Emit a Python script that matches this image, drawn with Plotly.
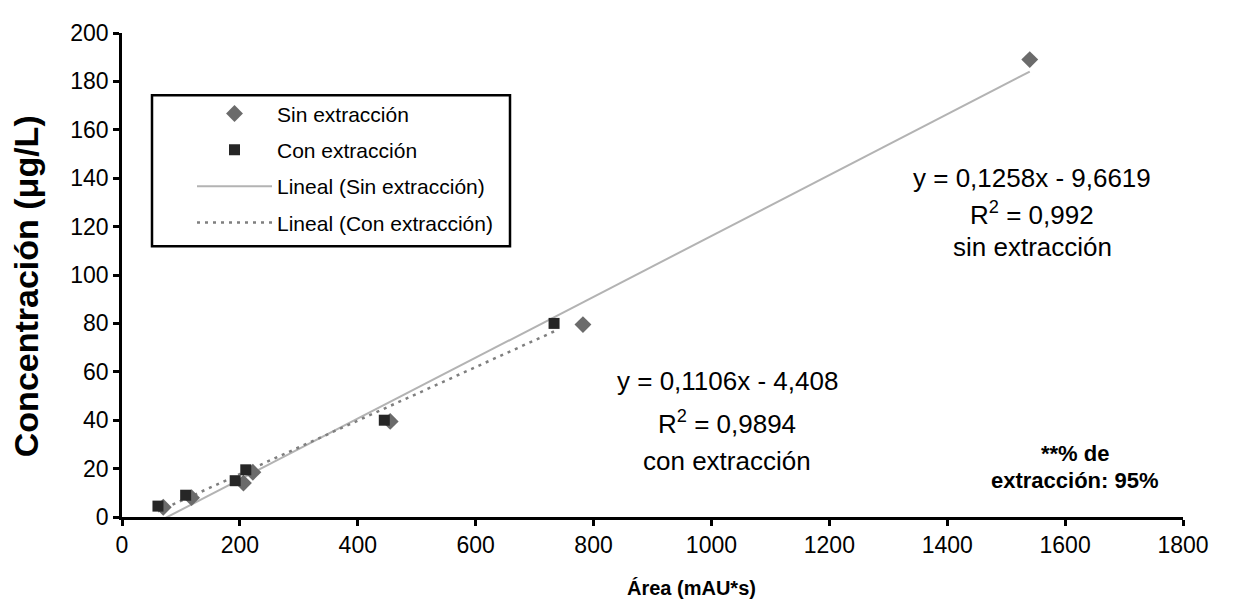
import plotly.graph_objects as go

# ---- data ----
sin_x = [70, 118, 206, 222, 455, 782, 1540]
sin_y = [4.0, 8.0, 14.0, 18.5, 39.5, 79.5, 189.0]
con_x = [61, 108, 192, 210, 445, 733]
con_y = [4.5, 9.0, 15.0, 19.5, 40.0, 80.0]

# trendline coefficients (as printed on the chart)
sin_slope, sin_icpt = 0.1258, -9.6619
con_slope, con_icpt = 0.1106, -4.408

x_ticks = [0, 200, 400, 600, 800, 1000, 1200, 1400, 1600, 1800]
y_ticks = [0, 20, 40, 60, 80, 100, 120, 140, 160, 180, 200]

FONT = "Liberation Sans, Arial, sans-serif"

# layout geometry (pixels)
W, H = 1245, 602
L, R, T, B = 114, 70, 12, 93
PW, PH = W - L - R, H - T - B


def px(xp):
    return (xp - L) / PW


def py(yp):
    return (H - B - yp) / PH


sin_line_x = [min(sin_x), max(sin_x)]
sin_line_y = [sin_slope * v + sin_icpt for v in sin_line_x]
con_line_x = [min(con_x), max(con_x)]
con_line_y = [con_slope * v + con_icpt for v in con_line_x]

fig = go.Figure()
fig.add_trace(go.Scatter(x=sin_line_x, y=sin_line_y, mode="lines",
                         line=dict(color="#b3b3b3", width=2),
                         name="Lineal (Sin extracción)", legendrank=3, legendgroup="c"))
fig.add_trace(go.Scatter(x=con_line_x, y=con_line_y, mode="lines",
                         line=dict(color="#7f7f7f", width=2.5, dash="3px,5px"),
                         name="Lineal (Con extracción)", legendrank=4, legendgroup="d"))
fig.add_trace(go.Scatter(x=sin_x, y=sin_y, mode="markers",
                         marker=dict(symbol="diamond", size=13, color="#6b6b6b"),
                         name="Sin extracción", legendrank=1, legendgroup="a"))
fig.add_trace(go.Scatter(x=con_x, y=con_y, mode="markers",
                         marker=dict(symbol="square", size=11, color="#262626"),
                         name="Con extracción", legendrank=2, legendgroup="b"))

ann = []


def txt(x, y, t, size=26, bold=False):
    ann.append(dict(x=x, y=y, xref="x", yref="y", text=(f"<b>{t}</b>" if bold else t),
                    showarrow=False, font=dict(family=FONT, size=size, color="black"),
                    xanchor="center", yanchor="middle"))


txt(1544, 140.2, "y = 0,1258x - 9,6619")
txt(1544, 125.6, "R<sup>2</sup> = 0,992")
txt(1544, 111.4, "sin extracción")
txt(1027, 56, "y = 0,1106x - 4,408")
txt(1027, 39, "R<sup>2</sup> = 0,9894")
txt(1027, 23.2, "con extracción")
txt(1617, 26.4, "**% de", size=22, bold=True)
txt(1617, 15, "extracción: 95%", size=22, bold=True)

# axis titles
ann.append(dict(x=px(683), y=py(582), xref="paper", yref="paper",
                text="<b>Área (mAU*s)</b>", showarrow=False,
                font=dict(family=FONT, size=20, color="black"),
                xanchor="center", yanchor="middle"))
ann.append(dict(x=px(18), y=py(272), xref="paper", yref="paper",
                text="<b>Concentración (μg/L)</b>", showarrow=False, textangle=-90,
                font=dict(family=FONT, size=34, color="black"),
                xanchor="center", yanchor="middle"))

fig.update_layout(
    width=W, height=H,
    margin=dict(l=L, r=R, t=T, b=B),
    paper_bgcolor="white", plot_bgcolor="white",
    font=dict(family=FONT, size=22, color="black"),
    showlegend=True,
    legend=dict(x=px(184), y=py(74), xanchor="left", yanchor="top",
                bgcolor="rgba(0,0,0,0)", borderwidth=0,
                font=dict(family=FONT, size=21, color="black"),
                tracegroupgap=6, itemwidth=75),
    shapes=[dict(type="rect", xref="paper", yref="paper",
                 x0=px(144), x1=px(502), y0=py(231), y1=py(76),
                 line=dict(color="black", width=2.5), fillcolor="white", layer="below")],
    annotations=ann,
)
fig.update_xaxes(range=[0, 1800], tickvals=x_ticks, ticktext=[str(v) for v in x_ticks],
                 showgrid=False, zeroline=False, showline=True, linecolor="black", linewidth=2.5,
                 ticks="outside", ticklen=6, tickwidth=2.5, tickcolor="black",
                 ticklabeloverflow="allow",
                 tickfont=dict(family=FONT, size=23, color="black"))
fig.update_yaxes(range=[0, 200], tickvals=y_ticks, ticktext=[str(v) for v in y_ticks],
                 showgrid=False, zeroline=False, showline=True, linecolor="black", linewidth=2.5,
                 ticks="outside", ticklen=6, tickwidth=2.5, tickcolor="black",
                 ticklabeloverflow="allow",
                 tickfont=dict(family=FONT, size=23, color="black"))

fig.write_html("out.html")
